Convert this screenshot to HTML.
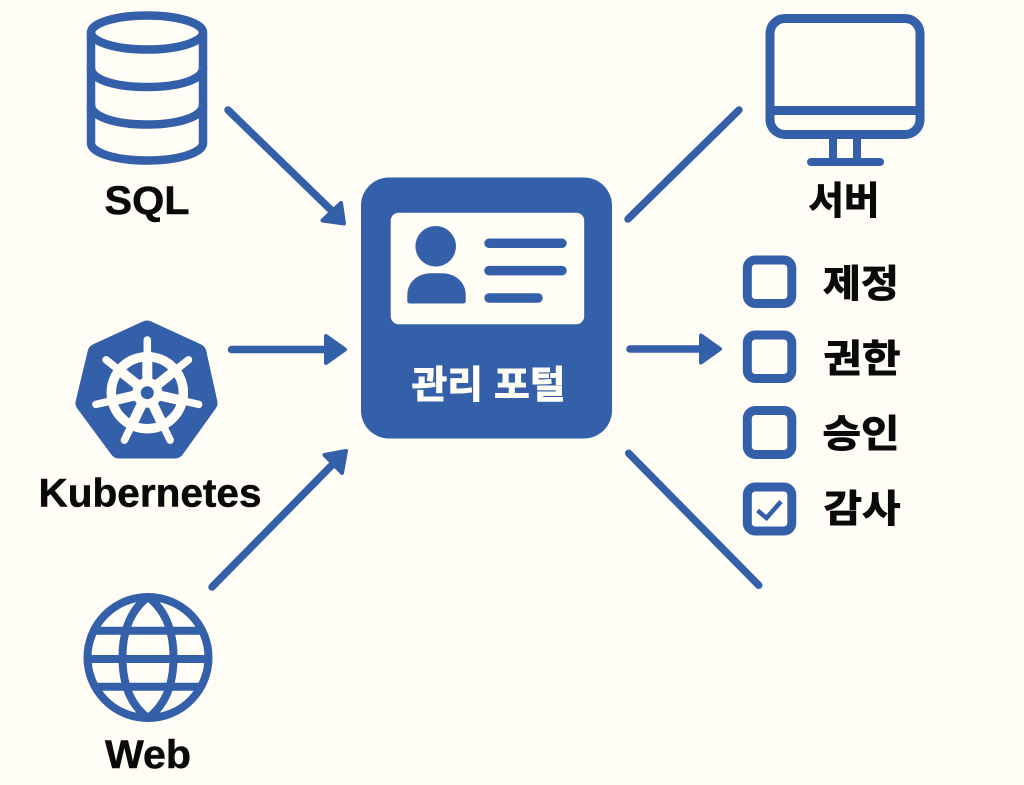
<!DOCTYPE html>
<html lang="ko">
<head>
<meta charset="utf-8">
<title>관리 포털</title>
<style>
html,body{margin:0;padding:0;background:#fffdf6;width:1024px;height:785px;overflow:hidden}
svg{display:block}
.t{font-family:"Liberation Sans","Noto Sans CJK KR",sans-serif;font-weight:700;fill:#0a0a0a;stroke:#0a0a0a;stroke-width:.5}
.k{font-family:"Noto Sans CJK KR","NanumGothic",sans-serif;font-weight:700;fill:#0a0a0a;font-size:38px;stroke:#0a0a0a;stroke-width:.9}
</style>
</head>
<body>
<svg width="1024" height="785" viewBox="0 0 1024 785" xmlns="http://www.w3.org/2000/svg">
<rect width="1024" height="785" fill="#fffdf6"/>

<!-- Database -->
<g fill="none" stroke="#3460a9" stroke-width="8.5" stroke-linecap="round">
  <ellipse cx="147" cy="32.5" rx="56" ry="17"/>
  <path d="M91 32.5V143C91 153 116 160.5 147 160.5S203 153 203 143V32.5"/>
  <path d="M91 68C91 80 116 87 147 87S203 80 203 68"/>
  <path d="M91 105C91 117 116 124.5 147 124.5S203 117 203 105"/>
</g>
<text class="t" x="147" y="214" font-size="40" text-anchor="middle" textLength="85" lengthAdjust="spacingAndGlyphs">SQL</text>

<!-- Kubernetes -->
<polygon points="147,330 197,353 208,403 175,449 119,449 85,403 97,353" fill="#3460a9" stroke="#3460a9" stroke-width="19" stroke-linejoin="round"/>
<g fill="none" stroke="#fffdf6" stroke-linecap="round">
  <circle cx="147.3" cy="392.7" r="36" stroke-width="9.5"/>
  <g stroke-width="7.5">
    <line x1="147.3" y1="392.7" x2="147.3" y2="340"/>
    <line x1="147.3" y1="392.7" x2="188.5" y2="359.8"/>
    <line x1="147.3" y1="392.7" x2="198.7" y2="404.4"/>
    <line x1="147.3" y1="392.7" x2="170.2" y2="440.2"/>
    <line x1="147.3" y1="392.7" x2="124.4" y2="440.2"/>
    <line x1="147.3" y1="392.7" x2="95.9" y2="404.4"/>
    <line x1="147.3" y1="392.7" x2="106.1" y2="359.8"/>
  </g>
  <g stroke-width="10" stroke-linecap="butt">
    <line x1="147.3" y1="392.7" x2="147.3" y2="357"/>
    <line x1="147.3" y1="392.7" x2="175.2" y2="370.4"/>
    <line x1="147.3" y1="392.7" x2="182.1" y2="400.6"/>
    <line x1="147.3" y1="392.7" x2="162.8" y2="424.9"/>
    <line x1="147.3" y1="392.7" x2="131.8" y2="424.9"/>
    <line x1="147.3" y1="392.7" x2="112.5" y2="400.6"/>
    <line x1="147.3" y1="392.7" x2="119.4" y2="370.4"/>
  </g>
</g>
<circle cx="147.3" cy="392.7" r="15" fill="#fffdf6"/>
<circle cx="147.3" cy="392.7" r="6.5" fill="#3460a9"/>
<text class="t" x="150" y="506.5" font-size="40" text-anchor="middle" textLength="223" lengthAdjust="spacingAndGlyphs">Kubernetes</text>

<!-- Globe -->
<g fill="none" stroke="#3460a9" stroke-width="8">
  <circle cx="148" cy="657.5" r="60.5"/>
  <path d="M148 597C128 612 122.5 635 122.5 657.5S128 703 148 718"/>
  <path d="M148 597C168 612 173.5 635 173.5 657.5S168 703 148 718"/>
  <line x1="87" y1="659" x2="209" y2="659"/>
  <line x1="94" y1="630.8" x2="202" y2="630.8"/>
  <line x1="94" y1="686.7" x2="202" y2="686.7"/>
</g>
<text class="t" x="148" y="768" font-size="40" text-anchor="middle" textLength="86" lengthAdjust="spacingAndGlyphs">Web</text>

<!-- Arrows -->
<g stroke="#3460a9" stroke-width="7.5" stroke-linecap="round" fill="none">
  <line x1="228" y1="110" x2="332" y2="211"/>
  <line x1="231.5" y1="349.5" x2="328" y2="349.5"/>
  <line x1="212" y1="587" x2="334" y2="463"/>
  <line x1="628" y1="219" x2="739" y2="110"/>
  <line x1="630" y1="349" x2="702" y2="349"/>
  <line x1="628.7" y1="453.3" x2="758.7" y2="585.3"/>
</g>
<g fill="#3460a9" stroke="#3460a9" stroke-width="4" stroke-linejoin="round">
  <polygon points="344,223.5 341,203 322.5,220.5"/>
  <polygon points="345,349.5 326,336 326,363"/>
  <polygon points="346,451 324.5,455 342,473"/>
  <polygon points="720,349 701,335.5 701,362.5"/>
</g>

<!-- Card -->
<rect x="361" y="177.5" width="251" height="261" rx="28" fill="#3460a9"/>
<rect x="390.7" y="212.7" width="193.5" height="111.5" rx="8" fill="#fffdf6"/>
<circle cx="435.7" cy="246.3" r="20.3" fill="#3460a9"/>
<path d="M407.3 301V295C407.3 282 418 273.3 431 273.3H442C455 273.3 465.7 282 465.7 295V301Q465.7 303.5 463 303.5H410Q407.3 303.5 407.3 301Z" fill="#3460a9"/>
<g stroke="#3460a9" stroke-width="9.5" stroke-linecap="round">
  <line x1="489" y1="243.3" x2="562" y2="243.3"/>
  <line x1="489" y1="270.6" x2="562" y2="270.6"/>
  <line x1="489" y1="298" x2="538" y2="298"/>
</g>
<text x="488.5" y="398" font-size="38" font-weight="700" fill="#fffdf6" stroke="#fffdf6" stroke-width=".9" text-anchor="middle" textLength="154" lengthAdjust="spacingAndGlyphs" style="font-family:'Noto Sans CJK KR','NanumGothic',sans-serif">관리 포털</text>

<!-- Monitor -->
<g fill="none" stroke="#3460a9" stroke-width="9">
  <rect x="770" y="18.5" width="150" height="116" rx="15"/>
  <line x1="770" y1="110.5" x2="920" y2="110.5"/>
  <line x1="833" y1="136" x2="833" y2="160" stroke-width="8"/>
  <line x1="857" y1="136" x2="857" y2="160" stroke-width="8"/>
  <line x1="811" y1="162" x2="880" y2="162" stroke-width="8" stroke-linecap="round"/>
</g>
<text class="k" x="844" y="214" text-anchor="middle" textLength="71" lengthAdjust="spacingAndGlyphs">서버</text>

<!-- Checklist -->
<g fill="none" stroke="#3460a9" stroke-width="9">
  <rect x="747.3" y="260" width="44.5" height="43.5" rx="8"/>
  <rect x="747.3" y="335" width="44.5" height="43.5" rx="8"/>
  <rect x="747.3" y="410.5" width="44.5" height="44" rx="8"/>
  <rect x="747.3" y="487" width="44.5" height="44" rx="8"/>
  <polyline points="757.5,510.5 766.5,518 781,501.5" stroke-width="4.5"/>
</g>
<text class="k" x="861" y="297" text-anchor="middle" textLength="76" lengthAdjust="spacingAndGlyphs">제정</text>
<text class="k" x="862" y="372" text-anchor="middle" textLength="77" lengthAdjust="spacingAndGlyphs">권한</text>
<text class="k" x="861" y="447" text-anchor="middle" textLength="77" lengthAdjust="spacingAndGlyphs">승인</text>
<text class="k" x="862" y="522" text-anchor="middle" textLength="77" lengthAdjust="spacingAndGlyphs">감사</text>
</svg>
</body>
</html>
